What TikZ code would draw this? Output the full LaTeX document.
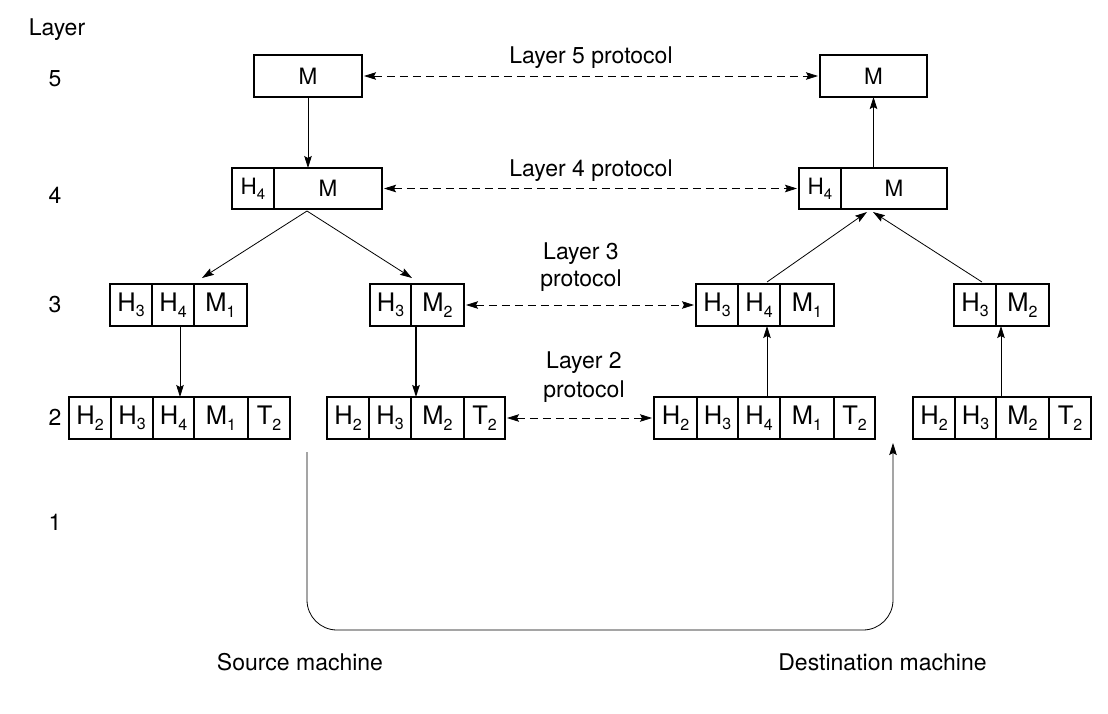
\documentclass[tikz,border=0pt]{standalone}
\usepackage{fontspec}
\setmainfont{TeX Gyre Heros}
\usetikzlibrary{arrows.meta,calc}
\newcommand{\lsub}[1]{\raisebox{-5.5pt}{\fontsize{16}{16}\selectfont #1}}
\newcommand{\ssub}[1]{\raisebox{-5pt}{\fontsize{15}{15}\selectfont #1}}
\begin{document}
\begin{tikzpicture}[x=1pt,y=-1pt,
  lbl/.style={font=\fontsize{23}{28.5}\selectfont, inner sep=0pt, anchor=base, align=center},
  cellbox/.style={draw, line width=1.1pt, inner sep=0pt, outer sep=0pt, anchor=north west,
    minimum height=42pt, font=\fontsize{25.5}{25.5}\selectfont},
  topbox/.style={cellbox, font=\fontsize{22.5}{22.5}\selectfont},
  arr/.style={-{Stealth[length=12pt,width=7.5pt,inset=2pt]}, line width=0.8pt},
  darr/.style={{Stealth[length=12pt,width=7.5pt,inset=2pt]}-{Stealth[length=12pt,width=7.5pt,inset=2pt]},
    line width=0.8pt, dash pattern=on 8pt off 5pt},
]
\fill[white] (0,0) rectangle (1108,713);
\useasboundingbox (0,0) rectangle (1108,713);

% ---- layer 5
\node[topbox, minimum width=108pt] (m5L) at (254,55) {M};
\node[topbox, minimum width=107pt] (m5R) at (820,55) {M};

% ---- layer 4
\node[topbox, minimum width=42pt, minimum height=41pt] (h4L) at (232,168) {H\ssub{4}};
\node[topbox, minimum width=108pt, minimum height=41pt] (mL4) at (274,168) {M};
\node[topbox, minimum width=42pt, minimum height=41pt] (h4R) at (799,168) {H\ssub{4}};
\node[topbox, minimum width=106pt, minimum height=41pt] (mR4) at (841,168) {M};

% ---- layer 3
\node[cellbox, minimum width=42pt] (a3h3) at (110,284) {H\lsub{3}};
\node[cellbox, minimum width=42pt] (a3h4) at (152,284) {H\lsub{4}};
\node[cellbox, minimum width=53pt] (a3m1) at (194,284) {M\lsub{1}};
\node[cellbox, minimum width=41pt] (b3h3) at (370,284) {H\lsub{3}};
\node[cellbox, minimum width=53pt] (b3m2) at (411,284) {M\lsub{2}};
\node[cellbox, minimum width=42pt] (c3h3) at (696,284) {H\lsub{3}};
\node[cellbox, minimum width=42pt] (c3h4) at (738,284) {H\lsub{4}};
\node[cellbox, minimum width=54pt] (c3m1) at (780,284) {M\lsub{1}};
\node[cellbox, minimum width=42pt] (d3h3) at (954,284) {H\lsub{3}};
\node[cellbox, minimum width=53pt] (d3m2) at (996,284) {M\lsub{2}};

% ---- layer 2
\node[cellbox, minimum width=42pt] (a2h2) at (69,397) {H\lsub{2}};
\node[cellbox, minimum width=42pt] (a2h3) at (111,397) {H\lsub{3}};
\node[cellbox, minimum width=41pt] (a2h4) at (153,397) {H\lsub{4}};
\node[cellbox, minimum width=54pt] (a2m1) at (194,397) {M\lsub{1}};
\node[cellbox, minimum width=42pt] (a2t2) at (248,397) {T\lsub{2}};

\node[cellbox, minimum width=42pt] (b2h2) at (327,397) {H\lsub{2}};
\node[cellbox, minimum width=42pt] (b2h3) at (369,397) {H\lsub{3}};
\node[cellbox, minimum width=53pt] (b2m2) at (411,397) {M\lsub{2}};
\node[cellbox, minimum width=41pt] (b2t2) at (464,397) {T\lsub{2}};

\node[cellbox, minimum width=43pt] (c2h2) at (654,397) {H\lsub{2}};
\node[cellbox, minimum width=41pt] (c2h3) at (697,397) {H\lsub{3}};
\node[cellbox, minimum width=42pt] (c2h4) at (738,397) {H\lsub{4}};
\node[cellbox, minimum width=54pt] (c2m1) at (780,397) {M\lsub{1}};
\node[cellbox, minimum width=41pt] (c2t2) at (834,397) {T\lsub{2}};

\node[cellbox, minimum width=42pt] (d2h2) at (913,397) {H\lsub{2}};
\node[cellbox, minimum width=41pt] (d2h3) at (955,397) {H\lsub{3}};
\node[cellbox, minimum width=53pt] (d2m2) at (996,397) {M\lsub{2}};
\node[cellbox, minimum width=42pt] (d2t2) at (1049,397) {T\lsub{2}};

% ---- labels
\node[lbl] (layerT) at (57,35) {Layer};
\node[lbl] (n5) at (55,86.5) {5};
\node[lbl] (n4) at (55,203.5) {4};
\node[lbl] (n3) at (55,312.5) {3};
\node[lbl] (n2) at (55,425.5) {2};
\node[lbl] (n1) at (55,530) {1};
\node[lbl] (p5) at (591,63.3) {Layer 5 protocol};
\node[lbl] (p4) at (591,176.7) {Layer 4 protocol};
\node[lbl, font=\fontsize{23}{27.5}\selectfont] (p3) at (581,286.8) {Layer 3\\protocol};
\node[lbl, font=\fontsize{23}{29}\selectfont] (p2) at (584,397) {Layer 2\\protocol};
\node[lbl] (src) at (300,670) {Source machine};
\node[lbl] (dst) at (882.5,670) {Destination machine};

% ---- vertical arrows, source side
\draw[arr] (m5L.south) -- (m5L.south |- mL4.north);
\coordinate (s4L) at ($(h4L.south west)!0.5!(mL4.south east)+(0,2)$);
\draw[arr] (s4L) -- ($(a3m1.north west)+(8,-6)$);
\draw[arr] (s4L) -- ($(b3m2.north west)+(1,-6)$);
\draw[arr] ([xshift=7pt]a3h4.south) -- ([xshift=7pt]a3h4.south |- a2h4.north);
\draw[arr, line width=1.4pt] ([xshift=5pt]b3m2.south west) -- ([xshift=5pt]b3m2.south west |- b2m2.north);

% ---- vertical arrows, destination side
\draw[arr] (m5R.south |- mR4.north) -- (m5R.south);
\draw[arr] ($(c3h4.north)+(8,-2)$) -- ($(h4R.south east)+(26,3)$);
\draw[arr] ($(d3h3.north)+(7,-2)$) -- ($(h4R.south east)+(32,3)$);
\draw[arr] ([xshift=8pt]c2h4.north) -- ([xshift=8pt]c2h4.north |- c3h4.south);
\draw[arr] ([xshift=5pt]d2m2.north west) -- ([xshift=5pt]d2m2.north west |- d3m2.south);

% ---- peer protocols
\draw[darr] ([xshift=2pt]m5L.east) -- ([xshift=-2pt]m5R.west);
\draw[darr] ([xshift=2pt]mL4.east) -- ([xshift=-2pt]h4R.west);
\draw[darr] ([xshift=2pt]b3m2.east) -- ([xshift=-2pt]c3h3.west);
\draw[darr] ([xshift=2pt]b2t2.east) -- ([xshift=-2pt]c2h2.west);

% ---- physical medium
\coordinate (phyS) at (307,452);
\coordinate (phyB) at (600,630);
\coordinate (phyD) at (893,443);
\draw[arr, rounded corners=30pt] (phyS) |- (phyB) -| (phyD);
\end{tikzpicture}
\end{document}
